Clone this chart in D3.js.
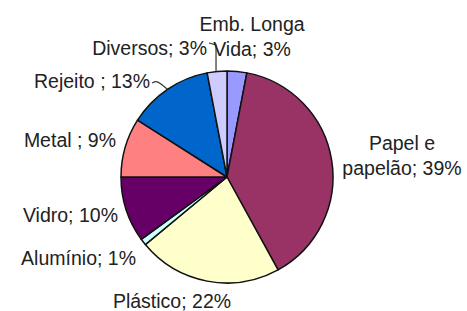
<!DOCTYPE html>
<html>
<head>
<meta charset="utf-8">
<script src="https://cdn.jsdelivr.net/npm/d3@7"></script>
<style>
  html, body { margin: 0; padding: 0; background: #fff; }
  svg { display: block; }
  text { font-family: "Liberation Sans", Arial, sans-serif; font-size: 19.5px; fill: #222; }
</style>
</head>
<body>
<svg id="chart" width="467" height="311"></svg>
<script>
// Data (clockwise from 12 o'clock)
const categories = ["Emb. Longa Vida", "Papel e papelão", "Plástico", "Alumínio", "Vidro", "Metal", "Rejeito", "Diversos"];
const values = [3, 39, 22, 1, 10, 9, 13, 3];
const labelLines = [
  ["Emb. Longa", "Vida; 3%"],
  ["Papel e", "papelão; 39%"],
  ["Plástico; 22%"],
  ["Alumínio; 1%"],
  ["Vidro; 10%"],
  ["Metal ; 9%"],
  ["Rejeito ; 13%"],
  ["Diversos; 3%"]
];
const colors = ["#9999FF", "#993366", "#FFFFCC", "#CCFFFF", "#660066", "#FF8080", "#0066CC", "#CCCCFF"];

// Layout
const cx = 227, cy = 177, R = 106;
// label anchor positions (layout only): [x, y of first baseline, anchor]
const labelLayout = [
  [252, 31, "middle"],
  [402, 150, "middle"],
  [172, 308, "middle"],
  [136, 265, "end"],
  [118, 222, "end"],
  [116, 147, "end"],
  [150, 88, "end"],
  [207, 55, "end"]
];
const lineHeight = 25;

const svg = d3.select("#chart");
const g = svg.append("g").attr("transform", `translate(${cx},${cy})`);

const pie = d3.pie().sort(null).value(d => d).startAngle(0).endAngle(2 * Math.PI);
const arcs = pie(values);
const arc = d3.arc().innerRadius(0).outerRadius(R);

const color = d3.scaleOrdinal().domain(categories).range(colors);

g.selectAll("path.slice")
  .data(arcs)
  .join("path")
  .attr("class", "slice")
  .attr("d", arc)
  .attr("fill", (d, i) => color(categories[i]))
  .attr("stroke", "#111")
  .attr("stroke-width", 1.5)
  .attr("stroke-linejoin", "round");

// point on the rim at the slice middle
function rimPoint(d, r) {
  const a = (d.startAngle + d.endAngle) / 2;
  return [cx + r * Math.sin(a), cy - r * Math.cos(a)];
}

// leader lines
const leaders = svg.append("g").attr("fill", "none").attr("stroke", "#333").attr("stroke-width", 1.2);
// Diversos
{
  const i = categories.indexOf("Diversos");
  const [px, py] = rimPoint(arcs[i], R);
  const lx = labelLayout[i][0] + 2, ly = labelLayout[i][1] - 12;
  leaders.append("path").attr("d", d3.line()([[lx, ly], [px - 1, ly + 2], [px - 1, py]]));
}
// Rejeito
{
  const i = categories.indexOf("Rejeito");
  const [px, py] = rimPoint(arcs[i], R);
  const lx = labelLayout[i][0] + 2, ly = labelLayout[i][1] - 5;
  leaders.append("path").attr("d", d3.line().curve(d3.curveBasis)([[lx, ly], [lx + 4, ly - 2], [lx + 8, ly], [px, py]]));
}

// labels
const labels = svg.append("g");
labelLines.forEach((lines, i) => {
  const [x, y, anchor] = labelLayout[i];
  const t = labels.append("text").attr("text-anchor", anchor);
  lines.forEach((s, k) => {
    t.append("tspan").attr("x", x).attr("y", y + k * lineHeight).text(s);
  });
});
</script>
</body>
</html>
